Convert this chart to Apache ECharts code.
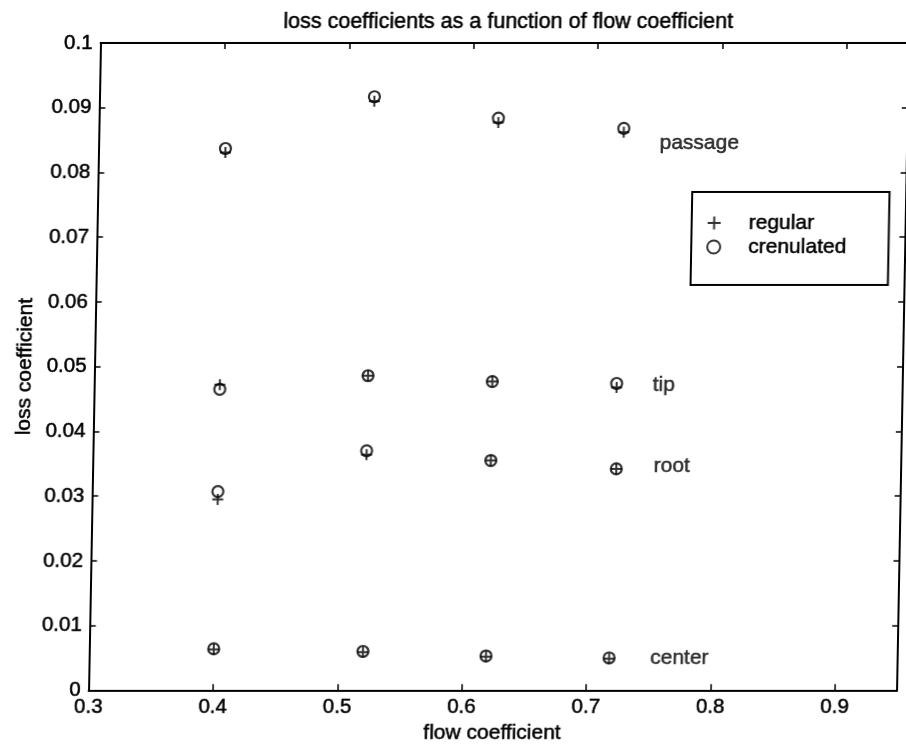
<!DOCTYPE html>
<html>
<head>
<meta charset="utf-8">
<script src="https://cdn.jsdelivr.net/npm/echarts@6/dist/echarts.min.js"></script>
<style>
html, body { margin: 0; padding: 0; background: #fff; overflow: hidden; }
#chart { width: 906px; height: 749px; transform-origin: 0 693px; transform: skewX(-1.058deg); }
</style>
</head>
<body>
<div id="chart"></div>
<script>
// ---- text ----
const titleText = 'loss coefficients as a function of flow coefficient';
const xAxisName = 'flow coefficient';
const yAxisName = 'loss coefficient';
const seriesNames = ['regular', 'crenulated'];

// ---- axes ----
const xMin = 0.3, xMax = 0.95, xStep = 0.1;
const yMin = 0, yMax = 0.1, yStep = 0.01;

// ---- flow coefficient of each measurement group ----
const passageX = [0.402, 0.521, 0.621, 0.722];
const tipX     = [0.401, 0.520, 0.620, 0.720];
const rootX    = [0.401, 0.520, 0.620, 0.721];
const centerX  = [0.400, 0.520, 0.619, 0.718];

// ---- loss coefficients, regular (+) ----
const regularPassage = [0.0831, 0.0910, 0.0877, 0.0862];
const regularTip     = [0.0472, 0.0486, 0.0477, 0.0468];
const regularRoot    = [0.0295, 0.0364, 0.0355, 0.0342];
const regularCenter  = [0.0063, 0.0059, 0.0052, 0.0049];

// ---- loss coefficients, crenulated (o) ----
const crenPassage = [0.0837, 0.0917, 0.0884, 0.0868];
const crenTip     = [0.0465, 0.0486, 0.0477, 0.0474];
const crenRoot    = [0.0307, 0.0370, 0.0355, 0.0342];
const crenCenter  = [0.0064, 0.0060, 0.0053, 0.0050];

// ---- in-plot group labels (data coordinates) ----
const groupLabels = ['passage', 'tip', 'root', 'center'];
const groupLabelX = [0.751, 0.749, 0.751, 0.751];
const groupLabelY = [0.0845, 0.0471, 0.0346, 0.0049];

// ---- build ----
const FONT = "'Liberation Sans', Arial, Helvetica, sans-serif";
const INK = { color: '#000', fontFamily: FONT, textBorderColor: '#000', textBorderWidth: 0.5 };
const pair = (xs, ys) => xs.map((x, i) => [x, ys[i]]);
const regularData = [].concat(
  pair(passageX, regularPassage), pair(tipX, regularTip),
  pair(rootX, regularRoot), pair(centerX, regularCenter));
const crenData = [].concat(
  pair(passageX, crenPassage), pair(tipX, crenTip),
  pair(rootX, crenRoot), pair(centerX, crenCenter));
const labelData = groupLabels.map((n, i) => ({ name: n, value: [groupLabelX[i], groupLabelY[i]] }));

const PLUS = 'path://M0,5L10,5M5,0L5,10';
const lineStyle = { color: '#000', width: 2 };

function xAxisCfg(pos, main) {
  return {
    type: 'value', position: pos, min: xMin, max: xMax, interval: xStep,
    name: main ? xAxisName : '', nameLocation: 'middle', nameGap: 29,
    nameTextStyle: Object.assign({ fontSize: 21 }, INK),
    axisLine: { show: true, onZero: false, lineStyle },
    axisTick: { show: true, inside: true, length: 6, lineStyle: { color: '#000', width: 1.5 } },
    axisLabel: Object.assign({ show: main, fontSize: 20.5, margin: 6,
      showMaxLabel: false, formatter: v => v.toFixed(1) }, INK),
    splitLine: { show: false }
  };
}
function yAxisCfg(pos, main) {
  return {
    type: 'value', position: pos, min: yMin, max: yMax, interval: yStep,
    name: main ? yAxisName : '', nameLocation: 'middle', nameGap: 54,
    nameTextStyle: Object.assign({ fontSize: 21 }, INK),
    axisLine: { show: true, onZero: false, lineStyle },
    axisTick: { show: true, inside: true, length: 6, lineStyle: { color: '#000', width: 1.5 } },
    axisLabel: Object.assign({ show: main, fontSize: 20.5, margin: 8,
      formatter: v => String(parseFloat(v.toFixed(2))) }, INK),
    splitLine: { show: false }
  };
}

const chart = echarts.init(document.getElementById('chart'), null, { renderer: 'canvas' });
chart.setOption({
  animation: false,
  backgroundColor: '#fff',
  title: {
    text: titleText, left: 266, top: 6,
    textStyle: Object.assign({ fontSize: 21.5, fontWeight: 'normal' }, INK)
  },
  grid: { left: 81, right: 9, top: 43, bottom: 56, containLabel: false },
  xAxis: [xAxisCfg('bottom', true), xAxisCfg('top', false)],
  yAxis: [yAxisCfg('left', true), yAxisCfg('right', false)],
  legend: {
    data: [
      { name: seriesNames[0], icon: PLUS },
      { name: seriesNames[1], icon: 'circle' }
    ],
    orient: 'vertical', left: 683, top: 192,
    itemWidth: 13, itemHeight: 13, itemGap: 0,
    padding: [19, 42, 26, 15],
    borderColor: '#000', borderWidth: 2,
    textStyle: Object.assign({ fontSize: 21, lineHeight: 24, padding: [0, 0, 0, 23] }, INK),
    selectedMode: false
  },
  series: [
    {
      name: seriesNames[0], type: 'scatter', xAxisIndex: 0, yAxisIndex: 0,
      symbol: PLUS, symbolSize: 11, data: regularData,
      itemStyle: { color: 'rgba(0,0,0,0)', borderColor: '#000', borderWidth: 2 },
      z: 3
    },
    {
      name: seriesNames[1], type: 'scatter', xAxisIndex: 0, yAxisIndex: 0,
      symbol: 'circle', symbolSize: 11, data: crenData,
      itemStyle: { color: 'rgba(0,0,0,0)', borderColor: '#000', borderWidth: 2.2 },
      z: 4
    },
    {
      name: 'group labels', type: 'scatter', xAxisIndex: 0, yAxisIndex: 0,
      symbolSize: 0, data: labelData, silent: true,
      label: Object.assign({
        show: true, position: 'inside', align: 'left', verticalAlign: 'middle',
        formatter: p => p.name, fontSize: 21
      }, INK),
      z: 5
    }
  ]
});
</script>
</body>
</html>
